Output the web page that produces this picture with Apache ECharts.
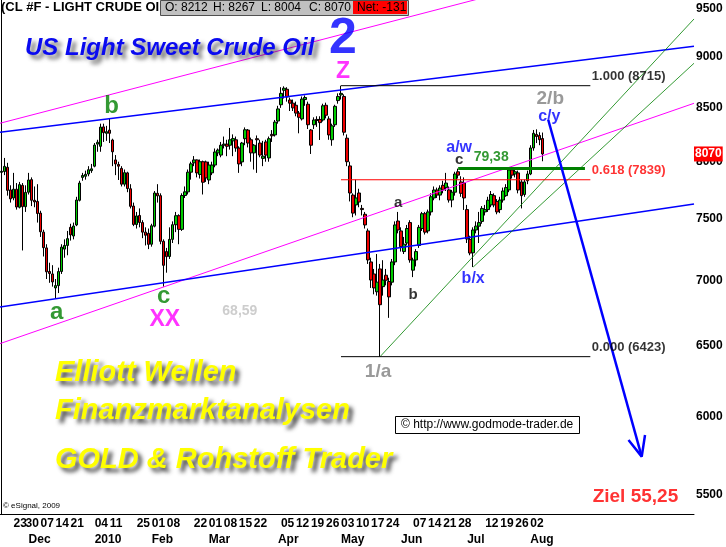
<!DOCTYPE html>
<html>
<head>
<meta charset="utf-8">
<script src="https://cdn.jsdelivr.net/npm/echarts@6/dist/echarts.min.js"></script>
<style>
  html, body { margin: 0; padding: 0; background: #fff; }
  #chart { width: 726px; height: 547px; }
</style>
</head>
<body>
<div id="chart"></div>
<script>
// trading calendar (daily candles), empty slots continue to the right edge
const firstDay = '2009-11-17'
const holidays = ['2009-11-26', '2009-12-25', '2010-01-01', '2010-01-18', '2010-02-15', '2010-04-02', '2010-05-31', '2010-07-05', '2010-09-06']
const slotCount = 231

// daily candles [open, close, low, high], price x100
const ohlc = [
  [7905, 7914, 7850, 7990], [7912, 7958, 7880, 8034], [7950, 7746, 7700, 7990], [7750, 7672, 7640, 7790],
  [7680, 7756, 7660, 7900], [7756, 7602, 7580, 7810], [7600, 7796, 7590, 7820], [7790, 7605, 7239, 7810],
  [7605, 7728, 7560, 7790], [7730, 7837, 7710, 7900], [7840, 7660, 7610, 7860], [7660, 7646, 7600, 7780],
  [7650, 7547, 7470, 7800], [7550, 7393, 7350, 7570], [7390, 7262, 7190, 7410], [7260, 7067, 7010, 7290],
  [7070, 7054, 6980, 7140], [7050, 6987, 6950, 7120], [6940, 6958, 6859, 7010], [6958, 7069, 6900, 7100],
  [7070, 7266, 7050, 7290], [7250, 7280, 7180, 7330], [7280, 7336, 7200, 7400], [7430, 7367, 7320, 7460],
  [7358, 7441, 7330, 7470], [7450, 7662, 7440, 7690], [7660, 7810, 7650, 7830], [7860, 7877, 7830, 7900],
  [7870, 7887, 7840, 7920], [7890, 7928, 7870, 7960], [7920, 7936, 7900, 7980], [7960, 8151, 7950, 8170],
  [8160, 8177, 8090, 8200], [8140, 8318, 8090, 8350], [8320, 8266, 8180, 8350], [8260, 8275, 8190, 8330],
  [8290, 8260, 8170, 8395], [8198, 8090, 7960, 8210], [8016, 7980, 7880, 8060], [7975, 7960, 7837, 8000],
  [7940, 7800, 7780, 7960], [7800, 7902, 7780, 7930], [7900, 7762, 7730, 7910], [7760, 7608, 7590, 7800],
  [7610, 7454, 7440, 7640], [7454, 7526, 7420, 7560], [7530, 7471, 7430, 7590], [7470, 7390, 7340, 7490],
  [7390, 7364, 7280, 7430], [7380, 7289, 7250, 7420], [7290, 7443, 7270, 7460], [7440, 7723, 7430, 7740],
  [7720, 7698, 7640, 7800], [7700, 7314, 7290, 7720], [7314, 7119, 6950, 7330], [7230, 7189, 7060, 7260],
  [7190, 7330, 7170, 7430], [7330, 7452, 7300, 7480], [7452, 7528, 7390, 7560], [7528, 7413, 7290, 7540],
  [7413, 7701, 7400, 7720], [7701, 7733, 7680, 7780], [7733, 7906, 7710, 7930], [7906, 7981, 7840, 8000],
  [7990, 8016, 7960, 8051], [8016, 7900, 7860, 8020], [7886, 8000, 7850, 8020], [8000, 7817, 7710, 8010],
  [7998, 7855, 7820, 8010], [7837, 7970, 7800, 8000], [7900, 7970, 7880, 8000], [7970, 8088, 7950, 8120],
  [8080, 8106, 8050, 8120], [8060, 8150, 8040, 8180], [8150, 8160, 8120, 8230], [8160, 8140, 8050, 8200],
  [8150, 8200, 8110, 8310], [8190, 8211, 8050, 8250], [8200, 8124, 8090, 8230], [8124, 7980, 7900, 8140],
  [7998, 8170, 7960, 8180], [8210, 8293, 8150, 8315], [8290, 8170, 8130, 8300], [8200, 8080, 8000, 8220],
  [8080, 8150, 7930, 8160], [8210, 8200, 7900, 8240], [8170, 8060, 8040, 8200], [8030, 8050, 7960, 8190],
  [8180, 8060, 8000, 8200], [8034, 8210, 8000, 8230], [8250, 8237, 8180, 8290], [8245, 8365, 8230, 8385],
  [8375, 8490, 8350, 8520], [8530, 8640, 8500, 8700], [8670, 8690, 8590, 8709], [8680, 8605, 8560, 8700],
  [8576, 8545, 8470, 8600], [8545, 8500, 8470, 8580], [8525, 8450, 8420, 8560], [8450, 8410, 8260, 8470],
  [8395, 8585, 8380, 8610], [8580, 8600, 8520, 8620], [8535, 8340, 8300, 8560], [8291, 8150, 8070, 8300],
  [8340, 8385, 8300, 8410], [8390, 8380, 8320, 8420], [8390, 8360, 8198, 8420], [8385, 8520, 8370, 8540],
  [8525, 8430, 8400, 8550], [8395, 8245, 8200, 8420], [8200, 8330, 8145, 8350], [8340, 8515, 8320, 8530],
  [8570, 8610, 8540, 8640], [8625, 8640, 8580, 8715], [8610, 8270, 8240, 8630], [8215, 8000, 7960, 8250],
  [7962, 7723, 7650, 8000], [7705, 7550, 7515, 7720], [7620, 7680, 7530, 7840], [7723, 7645, 7600, 7760],
  [7590, 7580, 7530, 7620], [7540, 7450, 7420, 7560], [7400, 7162, 7130, 7420], [7146, 7002, 6940, 7180],
  [7050, 6940, 6890, 7090], [6910, 6985, 6880, 7210], [7090, 6810, 6423, 7130], [6950, 7002, 6880, 7160],
  [7040, 7000, 6960, 7090], [6990, 6870, 6710, 7020], [6985, 7146, 6960, 7170], [7146, 7450, 7120, 7480],
  [7483, 7408, 7380, 7560], [7400, 7270, 7230, 7430], [7230, 7290, 7210, 7350], [7300, 7420, 7280, 7450],
  [7470, 7162, 7140, 7490], [7080, 7162, 7025, 7180], [7162, 7230, 7110, 7250], [7280, 7430, 7260, 7450],
  [7420, 7545, 7400, 7560], [7545, 7390, 7370, 7560], [7400, 7560, 7380, 7580], [7560, 7690, 7530, 7720],
  [7680, 7749, 7660, 7780], [7749, 7705, 7680, 7770], [7705, 7766, 7660, 7790], [7790, 7750, 7720, 7830],
  [7770, 7810, 7740, 7900], [7750, 7662, 7640, 7780], [7662, 7730, 7600, 7750], [7730, 7890, 7700, 7910],
  [7910, 7880, 7850, 7938], [7820, 7720, 7690, 7870], [7810, 7680, 7577, 7860], [7580, 7333, 7300, 7620],
  [7330, 7218, 7200, 7360], [7220, 7408, 7105, 7430], [7408, 7440, 7380, 7480], [7440, 7470, 7300, 7560],
  [7480, 7590, 7460, 7610], [7560, 7580, 7530, 7620], [7580, 7660, 7560, 7690], [7620, 7710, 7600, 7740],
  [7700, 7620, 7600, 7720], [7650, 7560, 7540, 7670], [7580, 7662, 7550, 7690], [7662, 7740, 7640, 7770],
  [7700, 7770, 7690, 7800], [7750, 7926, 7730, 7940], [7926, 7880, 7850, 7950], [7890, 7910, 7860, 7940],
  [7900, 7749, 7720, 7920], [7820, 7700, 7590, 7840], [7710, 7820, 7690, 7840], [7830, 7890, 7800, 7920],
  [7890, 8125, 7880, 8150], [8125, 8260, 8100, 8291], [8250, 8230, 8170, 8297], [8240, 8201, 8150, 8270],
  [8212, 8070, 8004, 8267]
]

// axis labels
const yTicks = [5500, 6000, 6500, 7000, 7500, 8000, 8500, 9000, 9500]
const priceFloor = 5380
const priceCeil = 9598
// first week label sits too close to the next one, so it gets its own axis row
const firstDayLabel = '2009-11-23'
const dayLabelDates = ['2009-11-30', '2009-12-07', '2009-12-14', '2009-12-21', '2010-01-04', '2010-01-11',
  '2010-01-25', '2010-02-01', '2010-02-08', '2010-02-22', '2010-03-01', '2010-03-08', '2010-03-15', '2010-03-22',
  '2010-04-05', '2010-04-12', '2010-04-19', '2010-04-26', '2010-05-03', '2010-05-10', '2010-05-17', '2010-05-24',
  '2010-06-07', '2010-06-14', '2010-06-21', '2010-06-28', '2010-07-12', '2010-07-19', '2010-07-26', '2010-08-02']
const monthLabelDates = ['2009-12-01', '2010-01-04', '2010-02-01', '2010-03-01', '2010-04-01', '2010-05-03', '2010-06-01', '2010-07-01', '2010-08-02']
const monthLabelNames = ['Dec', '2010', 'Feb', 'Mar', 'Apr', 'May', 'Jun', 'Jul', 'Aug']

// drawings: [day index, price]
const blueUpper = [[-0.5, 8270], [230.5, 9110]]
const blueLower = [[-0.5, 6792], [230.5, 7628]]
const pinkUpper = [[-0.5, 8354], [230.5, 10236]]
const pinkLower = [[-0.5, 6518], [230.5, 8544]]
const greenFromA = [[126, 6423], [230.5, 9395]]
const greenFromBX = [[157, 7105], [230.5, 8938]]
const fibHigh = 8715
const fibLow = 6423
const fibLevels = [1, 0.618, 0]
const fibStart = 113
const fibEnd = 196
const waveCHigh = [[152, 7938], [194.2, 7938]]
const arrowShaft = [[182, 8385], [213.1, 5739]]
const arrowHead = [[208.7, 5848], [213.1, 5739], [214.2, 5881]]

// wave labels: text, day index, price, kind, dx, dy
const marks = [
  ['a', 18, 6859, 'green', 1, 14],
  ['b', 36, 8395, 'green', 2, -13],
  ['c', 54, 6950, 'green', 0, 10],
  ['XX', 54, 6950, 'pinkBig', 1, 33],
  ['68,59', 80, 6859, 'note', -2, 13],
  ['2', 113, 8715, 'huge', 2, -46],
  ['Z', 113, 8715, 'pinkBig', 2, -14],
  ['1/a', 126, 6423, 'gray', -2, 15],
  ['a', 132, 7560, 'black', 0, -9],
  ['b', 137, 7025, 'black', 0, 18],
  ['a/w', 152, 7938, 'blue', 1, -21],
  ['c', 152, 7938, 'black', 1, -9],
  ['79,38', 152, 7938, 'greenSmall', 33, -11],
  ['b/x', 157, 7105, 'blue', 0, 12],
  ['2/b', 177, 8291, 'gray', 17, -31],
  ['c/y', 177, 8291, 'blue', 16, -13],
  ['Ziel 55,25', 211, 5525, 'target', 0, 6]
]

const L = Math.log
const font = 'Arial'

const dates = []
const cursor = new Date(firstDay + 'T00:00:00Z')
while (dates.length < slotCount) {
  const s = cursor.toISOString().slice(0, 10)
  const wd = cursor.getUTCDay()
  if (wd !== 0 && wd !== 6 && !holidays.includes(s)) dates.push(s)
  cursor.setUTCDate(cursor.getUTCDate() + 1)
}

const last = ohlc[ohlc.length - 1]
const prevClose = ohlc[ohlc.length - 2][1]
const net = last[1] - prevClose

const labelKinds = {
  green: { color: '#008000', size: 24 },
  greenSmall: { color: '#008000', size: 14 },
  pinkBig: { color: '#ff00ff', size: 23 },
  note: { color: '#c0c0c0', size: 14 },
  huge: { color: '#0000ff', size: 50 },
  gray: { color: '#808080', size: 19 },
  black: { color: '#000000', size: 15 },
  blue: { color: '#0000ff', size: 16 },
  target: { color: '#ff0000', size: 19 }
}

function toLog(points) {
  return points.map(p => [p[0], L(p[1])])
}

function drawLine(points, color, width, z) {
  return {
    type: 'line',
    xAxisIndex: 2,
    yAxisIndex: 0,
    data: toLog(points),
    symbol: 'none',
    silent: true,
    clip: true,
    z: z || 3,
    lineStyle: { color: color, width: width }
  }
}

const markData = marks.map(m => {
  const k = labelKinds[m[3]]
  return {
    value: [m[1], L(m[2])],
    label: {
      show: true,
      position: 'inside',
      formatter: m[0],
      offset: [m[4], m[5]],
      color: k.color,
      fontSize: k.size,
      fontWeight: 'bold',
      fontFamily: font
    }
  }
})

const fibPrice = lv => Math.round(fibLow + lv * (fibHigh - fibLow))
fibLevels.forEach(lv => {
  markData.push({
    value: [fibEnd, L(fibPrice(lv))],
    label: {
      show: true,
      position: 'right',
      distance: 1,
      formatter: lv.toFixed(3) + ' (' + fibPrice(lv) + ')',
      offset: [0, -9],
      color: lv === 0.618 ? '#ff0000' : '#000000',
      fontSize: 13,
      fontWeight: 'bold',
      fontFamily: font
    }
  })
})

const fibSeries = fibLevels.map(lv =>
  drawLine([[fibStart, fibPrice(lv)], [fibEnd, fibPrice(lv)]], lv === 0.618 ? '#ff0000' : '#000000', 1)
)

// quote box at the top
const quoteItems = ['O: ' + last[0], 'H: ' + last[3], 'L: ' + last[2], 'C: ' + last[1]]
const quoteBox = [
  { type: 'rect', left: 160, top: 0, z: 10, shape: { width: 248, height: 15 },
    style: { fill: '#c0c0c0', stroke: '#505050', lineWidth: 1 } },
  { type: 'rect', left: 353, top: 1, z: 11, shape: { width: 54, height: 13 }, style: { fill: '#ff0000' } },
  { type: 'text', left: 357, top: 2, z: 12, style: { text: 'Net: ' + net, font: '12px Arial', fill: '#000' } }
]
quoteItems.forEach((t, i) => {
  quoteBox.push({ type: 'text', left: 165 + i * 48, top: 2, z: 12, style: { text: t, font: '12px Arial', fill: '#000' } })
})

const shadowText = {
  color: '#ffff00',
  fontStyle: 'italic',
  fontWeight: 'bold',
  fontSize: 29,
  fontFamily: font,
  textShadowColor: 'rgba(40,40,40,0.85)',
  textShadowBlur: 4,
  textShadowOffsetX: 4,
  textShadowOffsetY: 4
}

const dateLabelStyle = {
  align: 'left',
  color: '#000',
  fontWeight: 'bold',
  fontSize: 12,
  fontFamily: font,
  hideOverlap: false
}

function labelAxis(shown, text, margin) {
  return {
    type: 'category',
    data: dates,
    boundaryGap: true,
    position: 'bottom',
    axisLine: { show: false },
    axisTick: { show: false },
    splitLine: { show: false },
    axisLabel: Object.assign({
      interval: (i, v) => shown(v),
      formatter: text,
      margin: margin
    }, dateLabelStyle)
  }
}

const chart = echarts.init(document.getElementById('chart'))

const option = {
  animation: false,
  backgroundColor: '#ffffff',
  textStyle: { fontFamily: font },
  graphic: quoteBox,
  title: [
    { text: '(CL #F - LIGHT CRUDE OIL)', left: 1, top: 1, padding: 0,
      textStyle: { fontSize: 13, fontWeight: 'bold', color: '#000', fontFamily: font } },
    { text: 'US Light Sweet Crude Oil', left: 25, top: 36, padding: 0,
      textStyle: { color: '#0a0af0', fontStyle: 'italic', fontWeight: 'bold', fontSize: 24, fontFamily: font,
        textShadowColor: 'rgba(60,60,60,0.8)', textShadowBlur: 4, textShadowOffsetX: 4, textShadowOffsetY: 4 } },
    { text: 'Elliott Wellen', left: 55, top: 358, padding: 0, textStyle: shadowText },
    { text: 'Finanzmarktanalysen', left: 55, top: 396, padding: 0, textStyle: shadowText },
    { text: 'GOLD & Rohstoff Trader', left: 55, top: 445, padding: 0, textStyle: shadowText },
    { text: '© http://www.godmode-trader.de', left: 395, top: 416, padding: [3, 6, 3, 6],
      borderColor: '#000', borderWidth: 1, backgroundColor: '#fff',
      textStyle: { fontSize: 12, lineHeight: 12, fontWeight: 'normal', color: '#000', fontFamily: font } },
    { text: '© eSignal, 2009', left: 3, top: 502, padding: 0,
      textStyle: { fontSize: 8, fontWeight: 'normal', color: '#000', fontFamily: font } }
  ],
  grid: { left: 0, right: 32, top: 0, bottom: 33, containLabel: false, outerBoundsMode: 'none' },
  xAxis: [
    Object.assign(labelAxis(v => dayLabelDates.includes(v), v => v.slice(8), 4), {
      axisLine: { show: true, lineStyle: { color: '#000', width: 1 } }
    }),
    labelAxis(v => monthLabelDates.includes(v), v => monthLabelNames[monthLabelDates.indexOf(v)], 20),
    { type: 'value', min: -0.5, max: slotCount - 0.5, show: false },
    labelAxis(v => v === firstDayLabel, v => v.slice(8), 4)
  ],
  yAxis: [
    {
      type: 'value',
      position: 'right',
      min: L(priceFloor),
      max: L(priceCeil),
      axisLine: { show: true, lineStyle: { color: '#000', width: 1 } },
      axisTick: { show: false },
      splitLine: { show: false },
      axisLabel: {
        customValues: yTicks.map(L),
        formatter: v => String(Math.round(Math.exp(v))),
        margin: 2,
        color: '#000',
        fontWeight: 'bold',
        fontSize: 12,
        fontFamily: font
      }
    },
    {
      type: 'value',
      position: 'right',
      min: L(priceFloor),
      max: L(priceCeil),
      z: 5,
      axisLine: { show: false },
      axisTick: { show: false },
      splitLine: { show: false },
      axisLabel: {
        customValues: [L(last[1])],
        formatter: v => String(Math.round(Math.exp(v))),
        margin: 0,
        color: '#fff',
        backgroundColor: '#ff0000',
        padding: [2, 1, 1, 1],
        fontWeight: 'bold',
        fontSize: 12,
        fontFamily: font
      }
    }
  ],
  series: [
    {
      type: 'candlestick',
      xAxisIndex: 0,
      yAxisIndex: 0,
      data: ohlc.map(r => r.map(L)),
      barWidth: 3,
      z: 2,
      silent: true,
      itemStyle: {
        color: '#00cc00',
        color0: '#ee0000',
        borderColor: '#000',
        borderColor0: '#000',
        borderWidth: 1
      }
    },
    drawLine(pinkUpper, '#ff00ff', 1),
    drawLine(pinkLower, '#ff00ff', 1),
    drawLine(blueUpper, '#0000ff', 1.5),
    drawLine(blueLower, '#0000ff', 1.5),
    drawLine(greenFromA, '#008000', 0.8),
    drawLine(greenFromBX, '#008000', 0.8),
    ...fibSeries,
    drawLine(waveCHigh, '#008000', 3),
    drawLine(arrowShaft, '#0000ff', 2.5, 4),
    drawLine(arrowHead, '#0000ff', 2.5, 4),
    {
      type: 'scatter',
      xAxisIndex: 2,
      yAxisIndex: 0,
      symbolSize: 1,
      itemStyle: { color: 'rgba(0,0,0,0)' },
      silent: true,
      z: 6,
      data: markData
    }
  ]
}

chart.setOption(option)
</script>
</body>
</html>
